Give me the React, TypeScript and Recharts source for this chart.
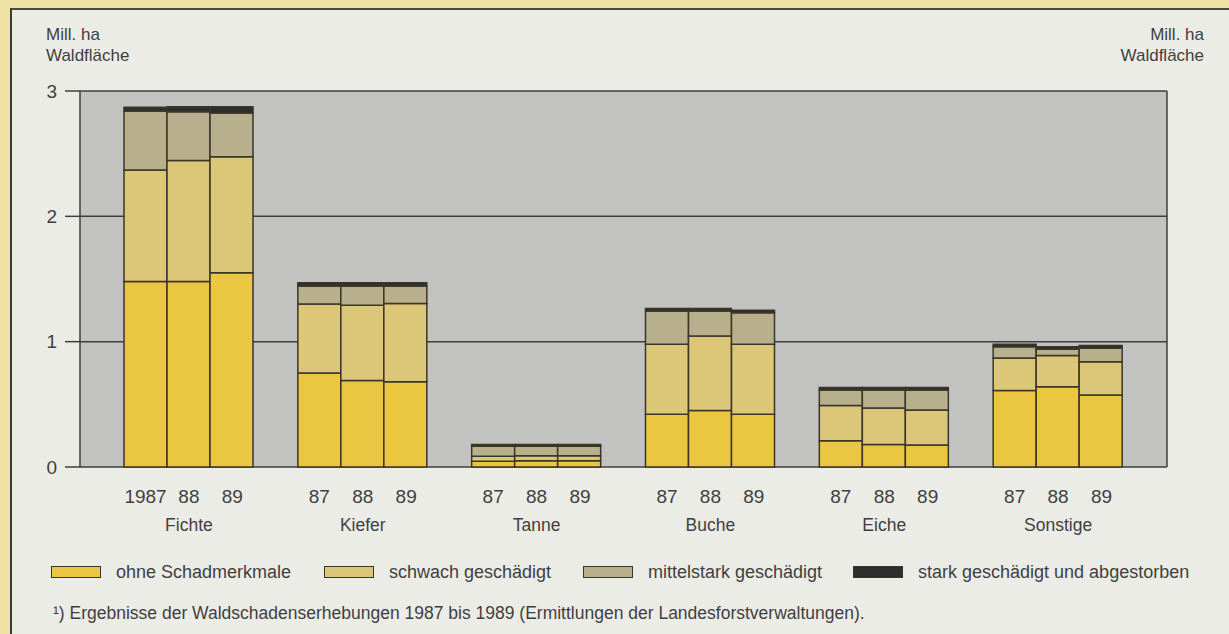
import { BarChart, Bar, XAxis, YAxis, CartesianGrid } from 'recharts';

// Mill. ha Waldfläche, je Baumart: [1987, 1988, 1989]
const species = ['Fichte', 'Kiefer', 'Tanne', 'Buche', 'Eiche', 'Sonstige'];
const years = ['87', '88', '89'];
const yearLabels = [
  ['1987', '88', '89'],
  ['87', '88', '89'],
  ['87', '88', '89'],
  ['87', '88', '89'],
  ['87', '88', '89'],
  ['87', '88', '89'],
];

const ohne = [
  [1.48, 1.48, 1.55],
  [0.75, 0.69, 0.68],
  [0.045, 0.05, 0.05],
  [0.42, 0.45, 0.42],
  [0.21, 0.18, 0.175],
  [0.61, 0.64, 0.575],
];
const schwach = [
  [0.89, 0.965, 0.925],
  [0.55, 0.6, 0.625],
  [0.04, 0.04, 0.04],
  [0.56, 0.595, 0.56],
  [0.28, 0.29, 0.28],
  [0.26, 0.25, 0.265],
];
const mittel = [
  [0.47, 0.39, 0.35],
  [0.145, 0.155, 0.14],
  [0.08, 0.075, 0.075],
  [0.265, 0.2, 0.25],
  [0.125, 0.145, 0.16],
  [0.09, 0.05, 0.11],
];
const stark = [
  [0.03, 0.04, 0.05],
  [0.025, 0.025, 0.025],
  [0.015, 0.015, 0.015],
  [0.02, 0.02, 0.02],
  [0.02, 0.02, 0.02],
  [0.02, 0.02, 0.02],
];
const yTicks = [0, 1, 2, 3];

const layers = [
  { key: 'ohne', name: 'ohne Schadmerkmale', color: '#eac641', values: ohne },
  { key: 'schwach', name: 'schwach geschädigt', color: '#dcc678', values: schwach },
  { key: 'mittel', name: 'mittelstark geschädigt', color: '#b8af8c', values: mittel },
  { key: 'stark', name: 'stark geschädigt und abgestorben', color: '#2e2e2e', values: stark },
];

const data = species.map((name, i) => {
  const row: Record<string, number | string> = { name };
  layers.forEach(l => years.forEach((y, j) => { row[`${l.key}${y}`] = l.values[i][j]; }));
  return row;
});

const FONT = '"Liberation Sans", Arial, sans-serif';
const INK = '#3f3f3f';
const BAR_W = 43.4;
const legendX = [51, 324, 583, 853];

// eslint-disable-next-line @typescript-eslint/no-explicit-any
function SpeciesTick({ x, y, payload, index }: any) {
  const labels = yearLabels[index] ?? years;
  return (
    <g fontFamily={FONT} fill={INK}>
      {labels.map((t, j) => (
        <text key={t + j} x={x + (j - 1) * BAR_W} y={y + 27} textAnchor="middle"
          dominantBaseline="central" fontSize={19} fill={INK}>{t}</text>
      ))}
      <text x={x} y={y + 56} textAnchor="middle" dominantBaseline="central" fontSize={17.5} fill={INK}>
        {payload.value}
      </text>
    </g>
  );
}

export default function App() {
  return (
    <div style={{
      position: 'absolute', left: 0, top: 0, width: 1229, height: 634,
      background: '#efe1a3', overflow: 'hidden', fontFamily: FONT, color: INK,
    }}>
      <div style={{
        position: 'absolute', left: 10, top: 8, right: 0, bottom: 0,
        background: '#ecece7', borderLeft: '2px solid #3a3a36', borderTop: '2px solid #4a4a44',
      }} />

      <div style={{ position: 'absolute', left: 46, top: 24, fontSize: 17, lineHeight: '21px' }}>
        Mill. ha<br />Waldfläche
      </div>
      <div style={{ position: 'absolute', right: 25, top: 24, fontSize: 17, lineHeight: '21px', textAlign: 'right' }}>
        Mill. ha<br />Waldfläche
      </div>

      <div style={{ position: 'absolute', left: 0, top: 0 }}>
        <BarChart
          width={1229}
          height={634}
          data={data}
          margin={{ top: 91, right: 22, bottom: 107, left: 40 }}
          barCategoryGap={22}
          barGap={0}
        >
          <CartesianGrid vertical={false} fill="#c2c2c0" stroke="#3e3e3e" strokeWidth={1.5} />
          <XAxis
            dataKey="name"
            height={60}
            axisLine={false}
            tickLine={false}
            tickSize={0}
            interval={0}
            padding={{ left: 22, right: 22 }}
            tick={<SpeciesTick />}
          />
          <YAxis
            width={40}
            domain={[0, 3]}
            ticks={yTicks}
            tickSize={15}
            tickMargin={8}
            axisLine={{ stroke: '#3e3e3e', strokeWidth: 1.5 }}
            tickLine={{ stroke: '#3e3e3e', strokeWidth: 1.5 }}
            tick={{ fontSize: 19, fill: INK, fontFamily: FONT }}
          />
          <YAxis
            yAxisId="right"
            orientation="right"
            width={40}
            domain={[0, 3]}
            ticks={yTicks}
            tickSize={13}
            tickMargin={13}
            axisLine={{ stroke: '#3e3e3e', strokeWidth: 1.5 }}
            tickLine={{ stroke: '#3e3e3e', strokeWidth: 1.5 }}
            tick={{ fontSize: 19, fill: INK, fontFamily: FONT }}
          />
          {years.map(y =>
            layers.map(l => (
              <Bar
                key={`${l.key}${y}`}
                dataKey={`${l.key}${y}`}
                stackId={`y${y}`}
                fill={l.color}
                stroke="#3a3628"
                strokeWidth={1.5}
                isAnimationActive={false}
              />
            ))
          )}
        </BarChart>
      </div>

      {layers.map((l, i) => (
        <div key={l.key} style={{
          position: 'absolute', left: legendX[i], top: 560, height: 24,
          display: 'flex', alignItems: 'center', fontSize: 18, whiteSpace: 'nowrap',
        }}>
          <span style={{
            display: 'inline-block', width: 48, height: 10, background: l.color,
            border: '1.5px solid #3a3628', marginRight: 15,
          }} />
          <span>{l.name}</span>
        </div>
      ))}

      <div style={{ position: 'absolute', left: 53, top: 602, fontSize: 17.5, lineHeight: '22px', whiteSpace: 'nowrap' }}>
        ¹) Ergebnisse der Waldschadenserhebungen 1987 bis 1989 (Ermittlungen der Landesforstverwaltungen).
      </div>
    </div>
  );
}
